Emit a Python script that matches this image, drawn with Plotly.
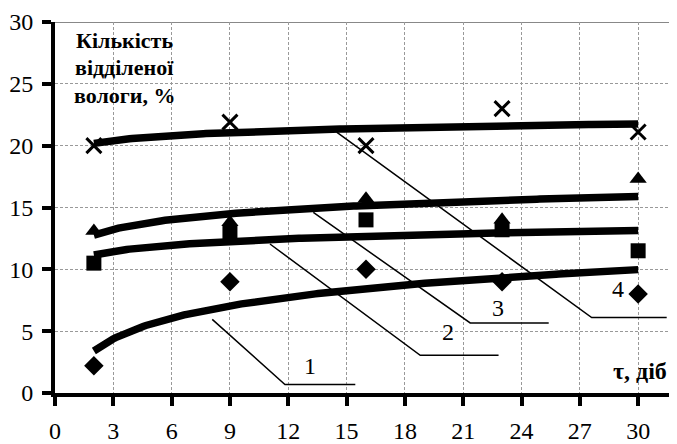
import numpy as np
import plotly.graph_objects as go

# ---- data ----
days = [2, 9, 16, 23, 30]
s1_diamond = [2.2, 9.0, 10.0, 9.0, 8.0]
s2_square = [10.5, 13.0, 14.0, 13.2, 11.5]
s3_triangle = [13.1, 13.8, 15.7, 14.0, 17.3]
s4_cross = [20.0, 21.9, 20.0, 23.0, 21.1]

x_ticks = list(range(0, 31, 3))
y_ticks = list(range(0, 31, 5))

curve_labels = ["1", "2", "3", "4"]
label_pos_x = [13.1, 20.2, 22.8, 28.95]
label_pos_y = [2.2, 4.9, 6.9, 8.4]
leader_x = [[8.09, 11.83, 15.45], [11.06, 18.79, 22.82], [13.29, 21.36, 25.40], [14.49, 27.61, 31.47]]
leader_y = [[5.95, 0.69, 0.69], [12.05, 3.05, 3.05], [14.6, 5.67, 5.67], [21.1, 6.1, 6.1]]

y_title_lines = ["Кількість", "відділеної", "вологи, %"]
y_title_pos_y = [28.5, 26.3, 24.05]
x_title = "τ, діб"

SERIF = "Liberation Serif"

fig = go.Figure()

series = [
    (s1_diamond, "diamond", 15),
    (s2_square, "square", 15),
    (s3_triangle, "triangle-up", 15),
    (s4_cross, "x-thin", 15),
]

# logarithmic trend lines fitted from the data
xs = np.linspace(min(days), max(days), 200)
lnx = np.log(days)
for vals, sym, sz in series:
    a, b = np.polyfit(lnx, vals, 1)
    fig.add_trace(go.Scatter(x=xs, y=a * np.log(xs) + b, mode="lines",
                             line=dict(color="black", width=7.5), showlegend=False,
                             hoverinfo="skip"))

for vals, sym, sz in series:
    if sym == "x-thin":
        marker = dict(symbol=sym, size=sz, color="black", line=dict(color="black", width=3))
    else:
        marker = dict(symbol=sym, size=sz, color="black", line=dict(width=0))
    fig.add_trace(go.Scatter(x=days, y=vals, mode="markers", marker=marker, showlegend=False))

for lx, ly in zip(leader_x, leader_y):
    fig.add_trace(go.Scatter(x=lx, y=ly, mode="lines", line=dict(color="black", width=1.5),
                             showlegend=False, hoverinfo="skip"))

annotations = []
for t, ax_, ay_ in zip(curve_labels, label_pos_x, label_pos_y):
    annotations.append(dict(x=ax_, y=ay_, xref="x", yref="y", text=t, showarrow=False,
                            font=dict(family=SERIF, size=24, color="black")))
annotations.append(dict(x=30.1, y=1.8, xref="x", yref="y", text="<b>" + x_title + "</b>",
                        showarrow=False, font=dict(family=SERIF, size=24, color="black")))
for t, ty in zip(y_title_lines, y_title_pos_y):
    annotations.append(dict(x=3.55, y=ty, xref="x", yref="y", text="<b>" + t + "</b>",
                            showarrow=False, align="center",
                            font=dict(family=SERIF, size=22, color="black")))

# page body has an 8px margin, so the figure is sized to end at the window edge
fig.update_layout(
    width=669, height=436,
    margin=dict(l=47, r=0, t=14, b=51, autoexpand=False),
    paper_bgcolor="white", plot_bgcolor="white",
    font=dict(family=SERIF),
    annotations=annotations,
    shapes=[dict(type="line", xref="paper", yref="y", x0=0, x1=1, y0=30, y1=30,
                 line=dict(color="#888888", width=2), layer="below")],
)
fig.update_xaxes(range=[0, 32], tickvals=x_ticks, showgrid=True, gridcolor="#999999",
                 griddash="3px,2px", gridwidth=1, showline=True, linecolor="black", linewidth=4,
                 ticks="outside", ticklen=9, tickwidth=4, tickcolor="black", zeroline=False,
                 automargin=False, ticklabelstandoff=4,
                 tickfont=dict(family=SERIF, size=24, color="black"))
fig.update_yaxes(range=[0, 30], tickvals=y_ticks, showgrid=True, gridcolor="#999999",
                 griddash="3px,2px", gridwidth=1, showline=True, linecolor="black", linewidth=4,
                 ticks="outside", ticklen=9, tickwidth=4, tickcolor="black", zeroline=False,
                 automargin=False, ticklabelstandoff=4,
                 tickfont=dict(family=SERIF, size=24, color="black"))

fig.write_html("out.html")
